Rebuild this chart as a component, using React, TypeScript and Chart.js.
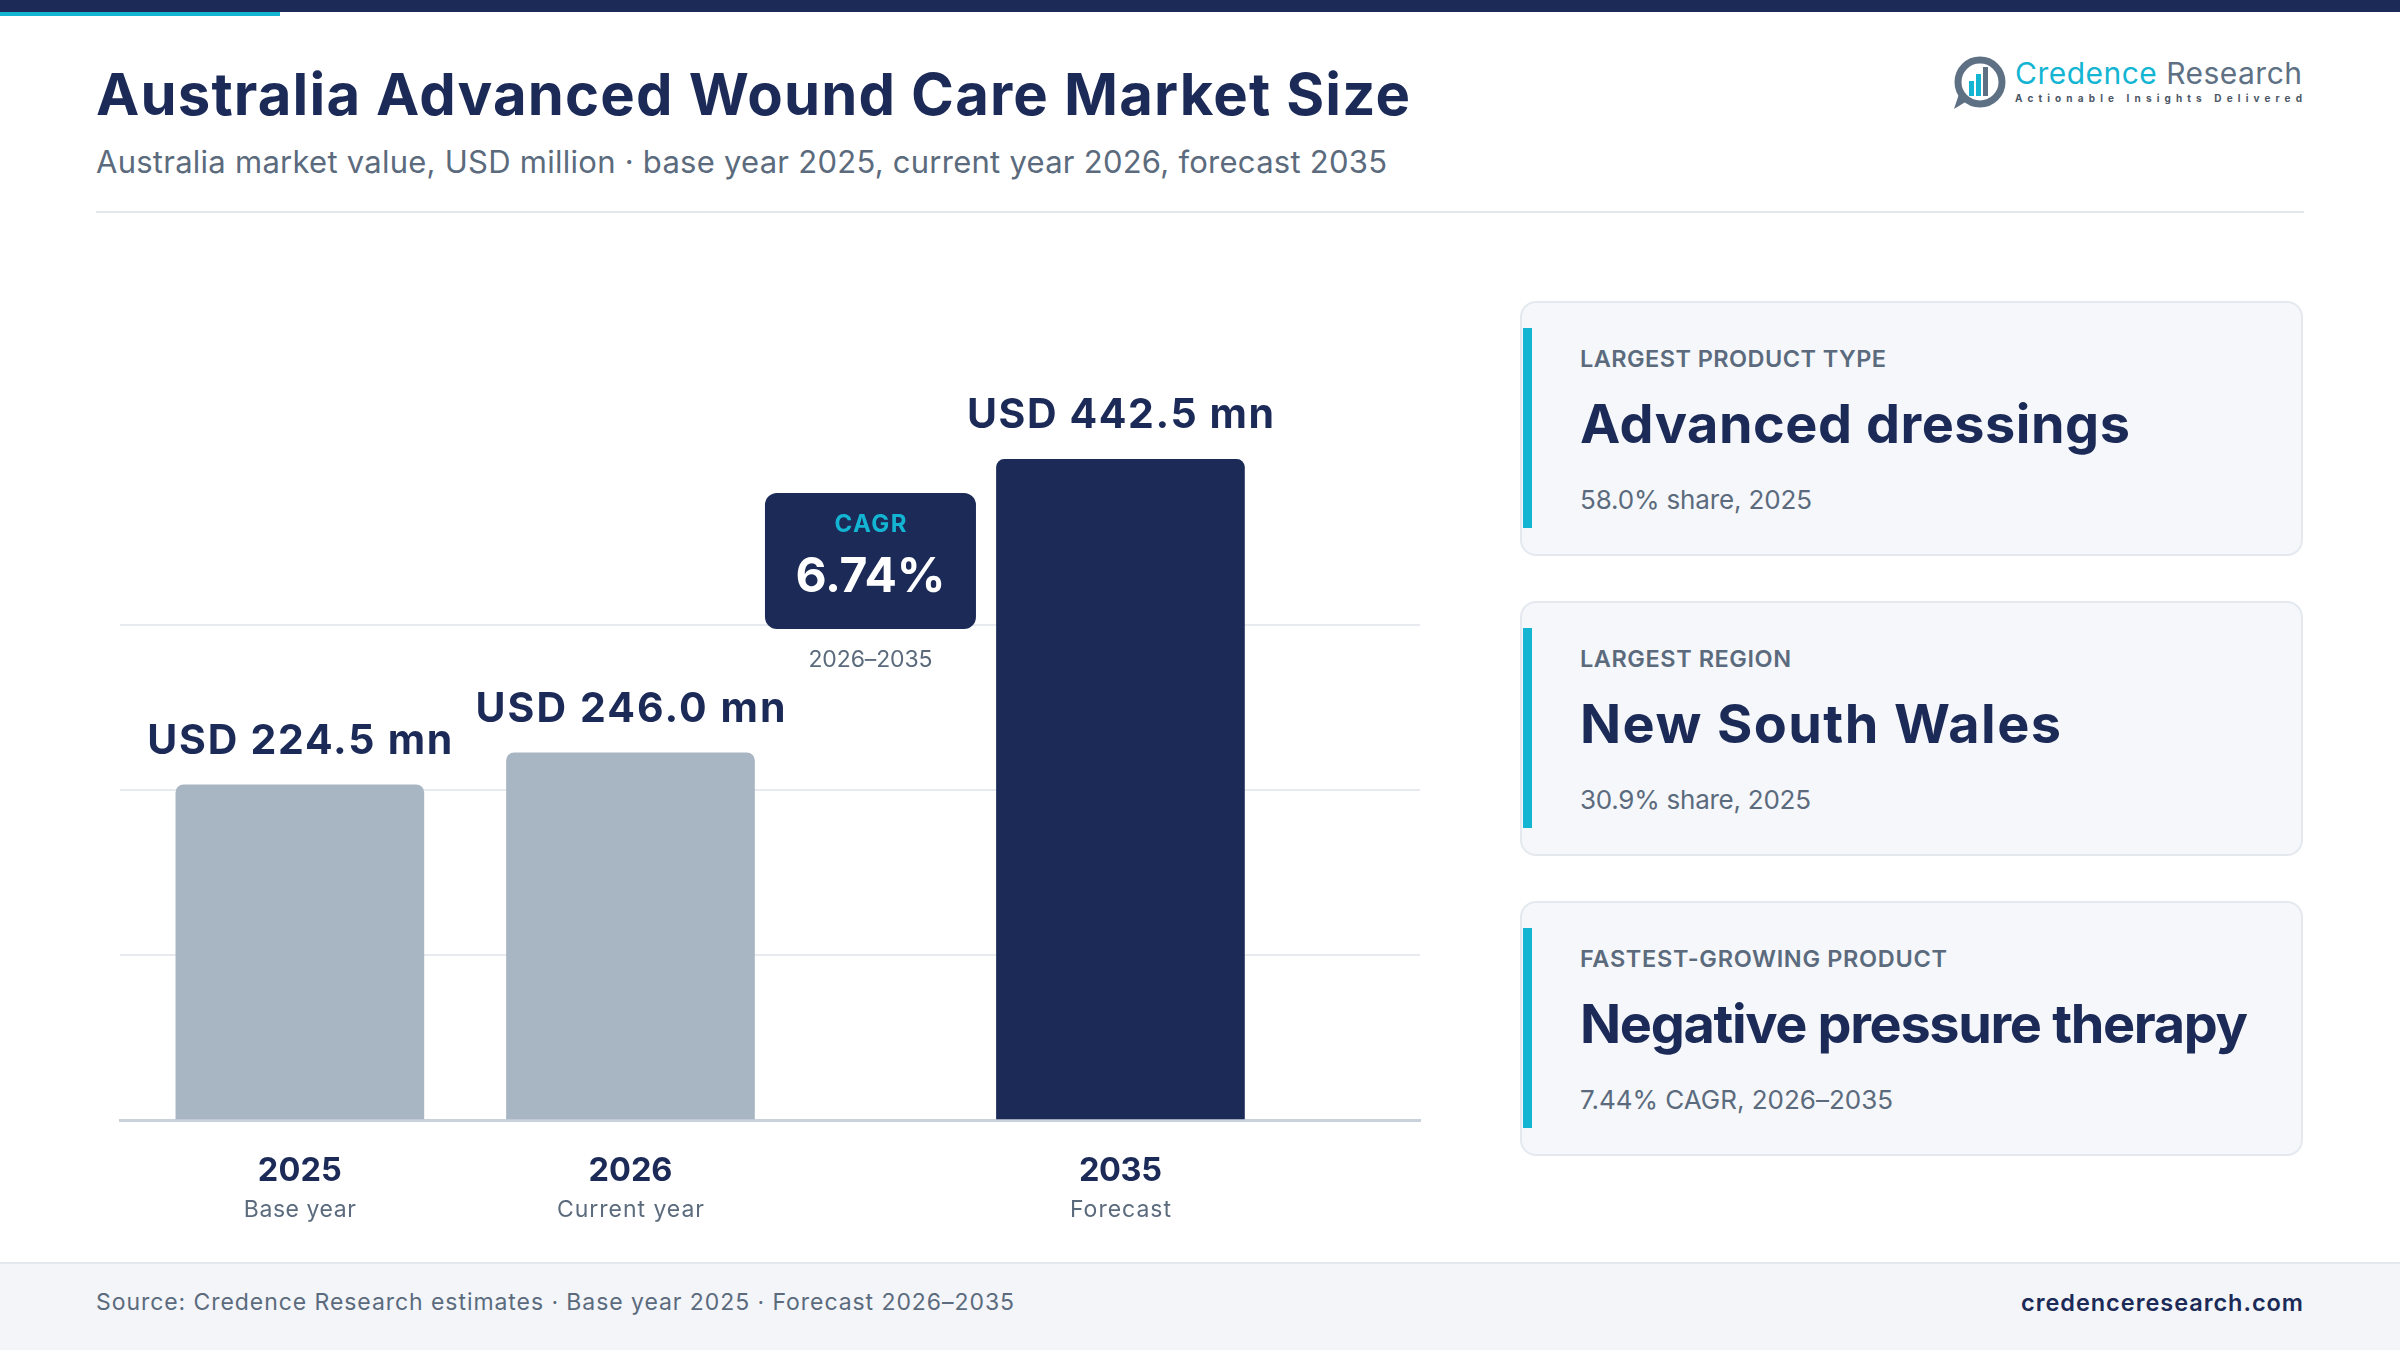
import React, { useEffect, useRef } from "react";
import { Chart, registerables } from "chart.js";

Chart.register(...registerables);

// ---------- data ----------
const years = ["2025", "2026", "2035"];
const yearRoles = ["Base year", "Current year", "Forecast"];
const marketValueUsdMn = [224.5, 246.0, 442.5];
const cagrPercent = 6.74;
const cagrPeriod = "2026–2035";

const highlightTitles = ["LARGEST PRODUCT TYPE", "LARGEST REGION", "FASTEST-GROWING PRODUCT"];
const highlightValues = ["Advanced dressings", "New South Wales", "Negative pressure therapy"];
const highlightNotes = ["58.0% share, 2025", "30.9% share, 2025", "7.44% CAGR, 2026–2035"];

// ---------- palette ----------
const NAVY = "#1b2a56";
const SLATE = "#5b6b7d";
const CYAN = "#13b5d3";
const BAR_GREY = "#a8b5c2";
const FONT = "Inter, 'Noto Sans', sans-serif";

// ---------- layout ----------
// The forecast bar is pushed right on the slot axis to leave room for the CAGR badge.
const FORECAST_GAP = 0.482;
const barSlots = yearRoles.map((r, i) => i + (r === "Forecast" ? FORECAST_GAP : 0));
const barColors = yearRoles.map((r) => (r === "Forecast" ? NAVY : BAR_GREY));

// set widths of the text runs (px)
const valueLabelWidths = [305, 310, 307];
const yearWidths = [84, 84, 83];
const roleWidths = [112, 147, 101];
const cardLabelWidths = [306, 211, 367];
const cardValueWidths = [550, 481, 668];
const cardNoteWidths = [232, 231, 313];

// letter spacing that stretches a string to a given width
let measureCtx: CanvasRenderingContext2D | null = null;
function spacingFor(text: string, weight: number, size: number, target: number) {
  if (!measureCtx) measureCtx = document.createElement("canvas").getContext("2d");
  const c = measureCtx!;
  c.font = `${weight} ${size}px ${FONT}`;
  const w = c.measureText(text).width;
  return (target - w) / Math.max(1, text.length - 1);
}

type TProps = {
  x: number;
  y: number; // baseline
  size: number;
  weight?: number;
  color: string;
  align?: "left" | "right";
  ls?: number;
  children: React.ReactNode;
};

function T({ x, y, size, weight = 400, color, align = "left", ls = 0, children }: TProps) {
  const style: React.CSSProperties = {
    position: "absolute",
    top: y - 0.864 * size,
    fontSize: size,
    fontWeight: weight,
    color,
    lineHeight: `${size}px`,
    whiteSpace: "nowrap",
    letterSpacing: ls,
  };
  if (align === "left") style.left = x;
  else style.right = 2400 - x - ls;
  return <div style={style}>{children}</div>;
}

function drawText(
  ctx: CanvasRenderingContext2D,
  text: string,
  x: number,
  y: number,
  weight: number,
  size: number,
  color: string,
  target: number
) {
  const ls = spacingFor(text, weight, size, target);
  ctx.font = `${weight} ${size}px ${FONT}`;
  (ctx as any).letterSpacing = `${ls}px`;
  ctx.fillStyle = color;
  ctx.textAlign = "center";
  ctx.textBaseline = "alphabetic";
  ctx.fillText(text, x + ls / 2, y);
}

const overlayPlugin = {
  id: "overlay",
  afterDatasetsDraw(chart: any) {
    const ctx: CanvasRenderingContext2D = chart.ctx;
    const meta = chart.getDatasetMeta(0);
    const base = chart.scales.y.getPixelForValue(0);
    ctx.save();

    meta.data.forEach((bar: any, i: number) => {
      drawText(ctx, `USD ${marketValueUsdMn[i].toFixed(1)} mn`, bar.x, bar.y - 31, 700, 41, NAVY, valueLabelWidths[i]);
    });

    // CAGR badge between the current year and the forecast year
    const cx = (meta.data[1].x + meta.data[2].x) / 2 - 5;
    const bw = 211;
    const top = base - 627;
    const bh = 136;
    ctx.beginPath();
    (ctx as any).roundRect(cx - bw / 2, top, bw, bh, 12);
    ctx.fillStyle = NAVY;
    ctx.fill();
    drawText(ctx, "CAGR", cx, base - 588, 700, 24, CYAN, 72);
    drawText(ctx, `${cagrPercent.toFixed(2)}%`, cx, base - 528.5, 700, 48, "#ffffff", 150);
    drawText(ctx, cagrPeriod, cx, base - 453.5, 400, 23, SLATE, 124);

    // year and role labels under the axis
    meta.data.forEach((bar: any, i: number) => {
      drawText(ctx, years[i], bar.x, base + 60.7, 700, 32.5, NAVY, yearWidths[i]);
      drawText(ctx, yearRoles[i], bar.x, base + 97, 400, 23, SLATE, roleWidths[i]);
    });
    ctx.restore();
  },
};

function MarketChart() {
  const ref = useRef<HTMLCanvasElement>(null);
  useEffect(() => {
    if (!ref.current) return;
    const peak = Math.max(...marketValueUsdMn);
    const chart = new Chart(ref.current, {
      type: "bar",
      data: {
        datasets: [
          {
            data: marketValueUsdMn.map((v, i) => ({ x: barSlots[i], y: v })),
            backgroundColor: barColors,
            barThickness: 248,
            borderRadius: { topLeft: 8, topRight: 8, bottomLeft: 0, bottomRight: 0 },
            borderSkipped: "bottom",
          } as any,
        ],
      },
      options: {
        animation: false,
        responsive: false,
        maintainAspectRatio: false,
        layout: { padding: { left: 20, right: 20, top: 44, bottom: 130 } },
        plugins: { legend: { display: false }, tooltip: { enabled: false } },
        scales: {
          x: {
            type: "linear",
            offset: false,
            min: -0.544,
            max: 3.388,
            grid: { display: false, drawTicks: false },
            ticks: { display: false },
            border: { display: true, color: "#c9d1da", width: 3 },
          },
          y: {
            min: 0,
            max: 560,
            grid: {
              color: (c: any) => (c.tick && c.tick.value === 0 ? "rgba(0,0,0,0)" : "#e7eaee"),
              lineWidth: 2,
              drawTicks: false,
            },
            border: { display: false },
            ticks: { display: false },
            afterBuildTicks: (axis: any) => {
              axis.ticks = [0, 1, 2, 3].map((k) => ({ value: (peak * k) / 4 }));
            },
          },
        },
      } as any,
      plugins: [overlayPlugin],
    });
    return () => chart.destroy();
  }, []);
  return (
    <canvas
      ref={ref}
      width={1340}
      height={1010}
      style={{ position: "absolute", left: 100, top: 240, width: 1340, height: 1010 }}
    />
  );
}

function Logo() {
  const tagLs = spacingFor("Actionable Insights Delivered", 700, 10, 287);
  const nameLs = spacingFor("Credence Research", 400, 30, 287);
  return (
    <>
      <svg
        width={58}
        height={58}
        viewBox="0 0 58 58"
        style={{ position: "absolute", left: 1950, top: 54 }}
      >
        <circle cx={30} cy={28} r={22} fill="none" stroke="#5e7184" strokeWidth={7} />
        <path d="M9 40 L4 55 L17 47 Z" fill="#5e7184" />
        <rect x={19} y={27} width={5} height={15} fill={CYAN} />
        <rect x={26} y={20} width={5} height={22} fill={CYAN} />
        <rect x={33} y={13} width={5} height={29} fill="#5e7184" />
      </svg>
      <T x={2015} y={84} size={30} weight={400} color={CYAN} ls={nameLs}>
        Credence <span style={{ color: "#5e7184" }}>Research</span>
      </T>
      <T x={2015} y={102} size={10} weight={700} color="#4b5666" ls={tagLs}>
        Actionable Insights Delivered
      </T>
    </>
  );
}

function HighlightCard({ i }: { i: number }) {
  const top = 301 + i * 300;
  const labelLs = spacingFor(highlightTitles[i], 600, 23.5, cardLabelWidths[i]);
  const valueLs = spacingFor(highlightValues[i], 700, 54, cardValueWidths[i]);
  const noteLs = spacingFor(highlightNotes[i], 400, 26, cardNoteWidths[i]);
  return (
    <>
      <div
        style={{
          position: "absolute",
          left: 1520,
          top,
          width: 783,
          height: 255,
          boxSizing: "border-box",
          background: "#f5f7fa",
          border: "2px solid #e4e8ef",
          borderRadius: 16,
        }}
      />
      <div style={{ position: "absolute", left: 1523, top: top + 27, width: 9, height: 200, background: CYAN }} />
      <T x={1580} y={top + 66} size={23.5} weight={600} color={SLATE} ls={labelLs}>
        {highlightTitles[i]}
      </T>
      <T x={1580} y={top + 142.6} size={54} weight={700} color={NAVY} ls={valueLs}>
        {highlightValues[i]}
      </T>
      <T x={1580} y={top + 208.6} size={26} weight={400} color={SLATE} ls={noteLs}>
        {highlightNotes[i]}
      </T>
    </>
  );
}

export default function App() {
  const title = "Australia Advanced Wound Care Market Size";
  const subtitle = "Australia market value, USD million · base year 2025, current year 2026, forecast 2035";
  const source = "Source: Credence Research estimates · Base year 2025 · Forecast 2026–2035";
  const site = "credenceresearch.com";
  return (
    <div
      style={{
        position: "fixed",
        left: 0,
        top: 0,
        width: 2400,
        height: 1350,
        background: "#ffffff",
        fontFamily: FONT,
        overflow: "hidden",
      }}
    >
      <div style={{ position: "absolute", left: 0, top: 0, width: 2400, height: 12, background: NAVY }} />
      <div style={{ position: "absolute", left: 0, top: 12, width: 280, height: 4, background: CYAN }} />

      <T x={96} y={115} size={58} weight={700} color={NAVY} ls={spacingFor(title, 700, 58, 1314)}>
        {title}
      </T>
      <T x={96} y={173} size={31} weight={400} color={SLATE} ls={spacingFor(subtitle, 400, 31, 1291)}>
        {subtitle}
      </T>
      <Logo />
      <div style={{ position: "absolute", left: 96, top: 211, width: 2208, height: 2, background: "#e4e7ee" }} />

      <MarketChart />

      {highlightTitles.map((_, i) => (
        <HighlightCard key={i} i={i} />
      ))}

      <div
        style={{
          position: "absolute",
          left: 0,
          top: 1262,
          width: 2400,
          height: 88,
          background: "#f3f5f9",
          borderTop: "2px solid #e3e7ee",
        }}
      />
      <T x={96} y={1311} size={23} weight={400} color={SLATE} ls={spacingFor(source, 400, 23, 918)}>
        {source}
      </T>
      <T x={2303} y={1311} size={23.5} weight={600} color={NAVY} align="right" ls={spacingFor(site, 600, 23.5, 282)}>
        {site}
      </T>
    </div>
  );
}
